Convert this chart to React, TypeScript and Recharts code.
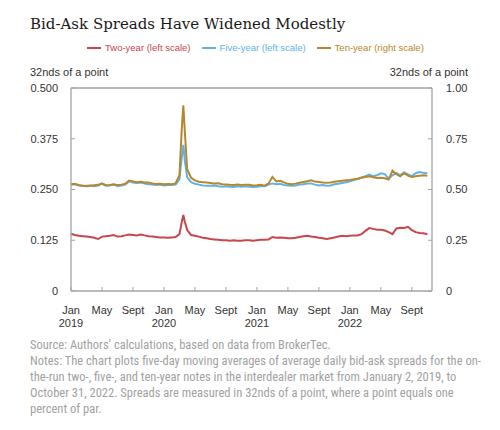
import { LineChart, Line, XAxis, YAxis, ReferenceLine } from "recharts"

// x position is months since Jan 2019
const MONTHS = [
  0, 0.5, 1, 1.5, 2, 2.5, 3, 3.5, 4, 4.5, 5, 5.5, 6, 6.5, 7, 7.5, 8, 8.5, 9, 9.5,
  10, 10.5, 11, 11.5, 12, 12.5, 13, 13.5, 14, 14.3, 14.5, 14.7,
  15, 15.5, 16, 16.5, 17, 17.5, 18, 18.5, 19, 19.5, 20, 20.5, 21, 21.5, 22, 22.5,
  23, 23.5, 24, 24.5, 25, 25.5, 26, 26.5, 27, 27.5, 28, 28.5, 29, 29.5, 30, 30.5,
  31, 31.5, 32, 32.5, 33, 33.5, 34, 34.5, 35, 35.5, 36, 36.5, 37, 37.5, 38, 38.5,
  39, 39.5, 40, 40.5, 41, 41.5, 42, 42.5, 43, 43.5, 44, 44.5, 45, 45.5, 46,
]

const TWO_YEAR = [
  0.141, 0.138, 0.136, 0.135, 0.134, 0.133, 0.131, 0.128, 0.134, 0.135, 0.136, 0.138, 0.134, 0.135,
  0.137, 0.139, 0.138, 0.137, 0.139, 0.137, 0.135, 0.134, 0.133, 0.132, 0.132, 0.131, 0.132, 0.133,
  0.14, 0.17, 0.187, 0.17,
  0.15, 0.138, 0.136, 0.134, 0.131, 0.13, 0.128, 0.127, 0.126, 0.125, 0.125, 0.124, 0.125, 0.124,
  0.124, 0.125, 0.125, 0.124, 0.125, 0.126, 0.126, 0.127, 0.133, 0.131, 0.132, 0.131, 0.13, 0.13,
  0.131, 0.133, 0.135, 0.136, 0.134, 0.133, 0.131, 0.13, 0.128, 0.13, 0.132, 0.134, 0.136, 0.135,
  0.136, 0.137, 0.137, 0.14, 0.148, 0.155, 0.153, 0.151, 0.151, 0.149, 0.145, 0.14, 0.154, 0.156,
  0.155, 0.158, 0.15, 0.145, 0.143, 0.142, 0.14,
]

const FIVE_YEAR = [
  0.262, 0.263, 0.26, 0.259, 0.259, 0.26, 0.258, 0.26, 0.264, 0.259, 0.26, 0.263, 0.258, 0.26,
  0.262, 0.27, 0.267, 0.266, 0.267, 0.265, 0.263, 0.262, 0.261, 0.262, 0.26, 0.261, 0.261, 0.262,
  0.275, 0.33, 0.36, 0.32,
  0.28, 0.268, 0.264, 0.262, 0.26, 0.259, 0.259, 0.26, 0.258, 0.257, 0.258, 0.257, 0.256, 0.258,
  0.257, 0.258, 0.257, 0.256, 0.257, 0.258, 0.258, 0.262, 0.265, 0.263, 0.264, 0.261, 0.26, 0.259,
  0.26, 0.262, 0.263, 0.265, 0.265, 0.262, 0.26, 0.261, 0.259, 0.26, 0.263, 0.264, 0.266, 0.268,
  0.27, 0.273, 0.276, 0.28, 0.283, 0.287, 0.283, 0.285, 0.29, 0.288, 0.277, 0.285, 0.291, 0.285,
  0.292, 0.287, 0.283, 0.29, 0.293, 0.291, 0.29,
]

const TEN_YEAR = [
  0.526, 0.528, 0.522, 0.518, 0.516, 0.519, 0.521, 0.523, 0.53, 0.521, 0.522, 0.525, 0.522, 0.524,
  0.528, 0.544, 0.54, 0.536, 0.538, 0.534, 0.535, 0.53, 0.527, 0.528, 0.526, 0.527, 0.526, 0.53,
  0.57, 0.8, 0.915, 0.78,
  0.6, 0.558, 0.545, 0.538, 0.536, 0.534, 0.532, 0.53, 0.531, 0.526, 0.525, 0.523, 0.522, 0.525,
  0.522, 0.524, 0.523, 0.52, 0.521, 0.523, 0.519, 0.53, 0.562, 0.54, 0.543, 0.535, 0.528, 0.526,
  0.529, 0.533, 0.537, 0.541, 0.545, 0.539, 0.537, 0.534, 0.533, 0.534, 0.538, 0.541, 0.543, 0.545,
  0.547, 0.55, 0.553, 0.558, 0.562, 0.565, 0.56, 0.557, 0.558, 0.555, 0.549, 0.593, 0.575, 0.565,
  0.58, 0.568, 0.562, 0.565, 0.568, 0.57, 0.568,
]

const X_TICKS = [0, 4, 8, 12, 16, 20, 24, 28, 32, 36, 40, 44]
const MONTH_LABELS = ["Jan", "May", "Sept", "Jan", "May", "Sept", "Jan", "May", "Sept", "Jan", "May", "Sept"]
const YEAR_LABELS = ["2019", "", "", "2020", "", "", "2021", "", "", "2022", "", ""]
const LEFT_TICKS = [0, 0.125, 0.25, 0.375, 0.5]
const RIGHT_TICKS = [0, 0.25, 0.5, 0.75, 1]

const SERIES = [
  { key: "two", name: "Two-year (left scale)", color: "#c8464c", axis: "left" },
  { key: "five", name: "Five-year (left scale)", color: "#5db3e6", axis: "left" },
  { key: "ten", name: "Ten-year (right scale)", color: "#b8862c", axis: "right" },
]

const data = MONTHS.map((m, i) => ({
  m,
  two: TWO_YEAR[i],
  five: FIVE_YEAR[i],
  ten: TEN_YEAR[i],
}))

const SANS = "'Liberation Sans', Arial, sans-serif"
const AXIS_GRAY = "#a3a3a3"
const TEXT = "#333"

// eslint-disable-next-line @typescript-eslint/no-explicit-any
function MonthTick({ x, y, payload }: any) {
  const i = X_TICKS.indexOf(payload.value)
  return (
    <text x={x} y={y} textAnchor="middle" fill={TEXT} fontSize={11} fontFamily={SANS}>
      <tspan x={x} dy="0.75em">{MONTH_LABELS[i]}</tspan>
      {YEAR_LABELS[i] && <tspan x={x} dy={13}>{YEAR_LABELS[i]}</tspan>}
    </text>
  )
}

export default function App() {
  return (
    <div style={{ position: "absolute", left: 0, top: 0, width: 500, height: 430, background: "#fff" }}>
      <div
        style={{
          position: "absolute",
          left: 30,
          top: 15,
          fontFamily: "'DejaVu Serif', serif",
          fontSize: 15,
          color: "#1a1a1a",
          whiteSpace: "nowrap",
        }}
      >
        Bid-Ask Spreads Have Widened Modestly
      </div>

      <div style={{ position: "absolute", left: 87, top: 42, display: "flex", fontFamily: SANS, fontSize: 9.5 }}>
        {SERIES.map((s) => (
          <div key={s.key} style={{ display: "flex", alignItems: "center", marginRight: 11, color: s.color }}>
            <div style={{ width: 14, height: 2, background: s.color, marginRight: 4 }} />
            <span>{s.name}</span>
          </div>
        ))}
      </div>

      <div style={{ position: "absolute", left: 30, top: 66, fontFamily: SANS, fontSize: 11, color: TEXT }}>
        32nds of a point
      </div>
      <div style={{ position: "absolute", right: 32, top: 66, fontFamily: SANS, fontSize: 11, color: TEXT }}>
        32nds of a point
      </div>

      <div style={{ position: "absolute", left: 0, top: 0 }}>
        <LineChart width={500} height={330} data={data} margin={{ top: 88, right: 28, bottom: 9, left: 31 }}>
          <XAxis
            dataKey="m"
            type="number"
            domain={[0, 46.6]}
            ticks={X_TICKS}
            interval={0}
            height={30}
            tickSize={-4}
            tickMargin={19}
            tick={<MonthTick />}
            axisLine={{ stroke: AXIS_GRAY, strokeWidth: 1.3 }}
            tickLine={{ stroke: AXIS_GRAY }}
          />
          <YAxis
            yAxisId="left"
            domain={[0, 0.5]}
            ticks={LEFT_TICKS}
            width={40}
            tickSize={-4}
            tickMargin={17}
            tickFormatter={(v) => (v === 0 ? "0" : v.toFixed(3))}
            tick={{ fill: TEXT, fontSize: 11, fontFamily: SANS }}
            axisLine={{ stroke: AXIS_GRAY, strokeWidth: 1.3 }}
            tickLine={{ stroke: AXIS_GRAY }}
          />
          <YAxis
            yAxisId="right"
            orientation="right"
            domain={[0, 1]}
            ticks={RIGHT_TICKS}
            width={40}
            tickSize={-4}
            tickMargin={18}
            tickFormatter={(v) => (v === 0 ? "0" : v.toFixed(2))}
            tick={{ fill: TEXT, fontSize: 11, fontFamily: SANS }}
            axisLine={{ stroke: AXIS_GRAY, strokeWidth: 1.3 }}
            tickLine={{ stroke: AXIS_GRAY }}
          />
          <ReferenceLine yAxisId="left" y={0.5} stroke={AXIS_GRAY} strokeWidth={1.3} />
          {SERIES.map((s) => (
            <Line
              key={s.key}
              yAxisId={s.axis}
              dataKey={s.key}
              type="linear"
              stroke={s.color}
              strokeWidth={2}
              dot={false}
              isAnimationActive={false}
            />
          ))}
        </LineChart>
      </div>

      <div
        style={{
          position: "absolute",
          left: 30,
          top: 337,
          fontFamily: "'Liberation Sans Narrow', 'Roboto Condensed', sans-serif",
          fontSize: 12.5,
          lineHeight: "16px",
          color: "#a2a2a2",
          whiteSpace: "nowrap",
        }}
      >
        Source: Authors’ calculations, based on data from BrokerTec.
        <br />
        Notes: The chart plots five-day moving averages of average daily bid-ask spreads for the on-
        <br />
        the-run two-, five-, and ten-year notes in the interdealer market from January 2, 2019, to
        <br />
        October 31, 2022. Spreads are measured in 32nds of a point, where a point equals one
        <br />
        percent of par.
      </div>
    </div>
  )
}
